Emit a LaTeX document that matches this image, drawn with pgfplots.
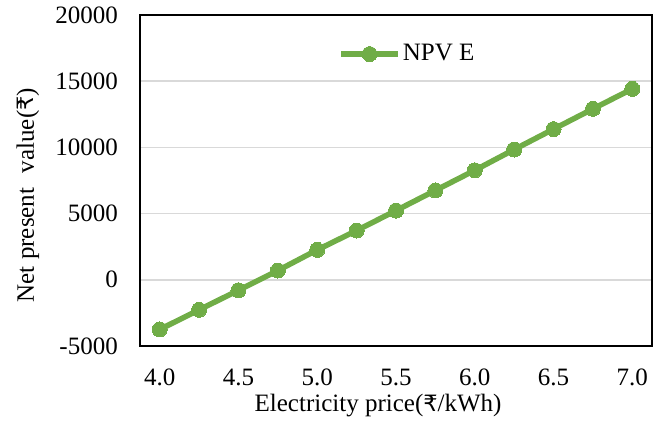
\documentclass[border=0pt]{standalone}
\usepackage{pgfplots}
\pgfplotsset{compat=1.18}
\usepackage{fontspec}
\setmainfont{Liberation Serif}
\newfontfamily\rupeefont{DejaVu Sans}[Scale=0.9]
\newcommand{\rupee}{{\rupeefont ₹}}
\definecolor{exgreen}{RGB}{112,173,71}
\definecolor{gridgray}{RGB}{217,217,217}
\begin{document}
\fontsize{25}{30}\selectfont
\begin{tikzpicture}
\useasboundingbox (0pt,0pt) rectangle (665pt,425pt);
\begin{axis}[
  at={(140pt,79pt)}, anchor=south west,
  width=512pt, height=331pt, scale only axis,
  xmin=3.875, xmax=7.125,
  ymin=-5000, ymax=20000,
  scaled y ticks=false, scaled x ticks=false,
  xtick={4,4.5,5,5.5,6,6.5,7},
  xticklabels={4.0,4.5,5.0,5.5,6.0,6.5,7.0},
  ytick={-5000,0,5000,10000,15000,20000},
  yticklabels={-5000,0,5000,10000,15000,20000},
  major tick length=0pt,
  ymajorgrids, grid style={gridgray, line width=1.5pt},
  axis line style={black, line width=1.8pt},
  yticklabel style={anchor=east, inner sep=0pt, xshift=-22pt},
  xticklabel style={anchor=north, inner sep=0pt, yshift=-23pt},
  xlabel={Electricity price(\rupee/kWh)},
  ylabel={Net present\,\, value(\rupee)},
  xlabel style={at={(axis description cs:0.465,-0.199)}, anchor=base},
  ylabel style={at={(axis description cs:-0.219,0.456)}, anchor=center},
  legend style={draw=none, fill=none, at={(axis description cs:0.387,0.882)}, anchor=west, inner sep=0pt,
    nodes={inner sep=2pt}},
  legend cell align=left,
  legend image code/.code={
    \draw[#1, mark=none] (0pt,0pt) -- (57pt,0pt);
    \draw[#1] plot[mark=*] coordinates {(28.5pt,0pt)};
  },
]
\addplot[exgreen, line width=5.5pt, mark=*, mark size=7.5pt, mark options={fill=exgreen, draw=exgreen, line width=0pt}]
  coordinates {
  (4.00,-3750) (4.25,-2270) (4.50,-790) (4.75,700) (5.00,2260)
  (5.25,3720) (5.50,5230) (5.75,6750) (6.00,8270) (6.25,9840)
  (6.50,11380) (6.75,12910) (7.00,14420)
  };
\addlegendentry{NPV E}
\end{axis}
\end{tikzpicture}
\end{document}
